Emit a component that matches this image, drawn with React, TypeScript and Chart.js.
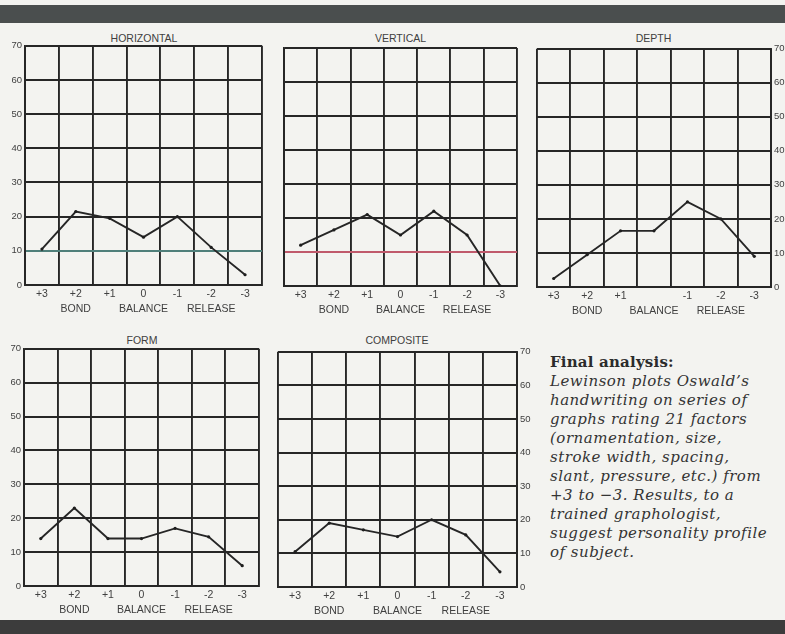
import { useEffect, useRef } from "react";
import { Chart, registerables } from "chart.js";

Chart.register(...registerables);

// ---- data ----
const categories = ["+3", "+2", "+1", "0", "-1", "-2", "-3"];
const depthCategories = ["+3", "+2", "+1", "", "-1", "-2", "-3"];
const zoneLabels = ["", "BOND", "", "BALANCE", "", "RELEASE", ""];
const yTicks = [0, 10, 20, 30, 40, 50, 60, 70];

const horizontalValues = [10.5, 21.5, 19.5, 14, 20, 11, 3];
const verticalValues = [12, 16.5, 21, 15, 22, 15, 0];
const depthValues = [2.5, 9.5, 16.5, 16.5, 25, 20, 9];
const formValues = [14, 23, 14, 14, 17, 14.5, 6];
const compositeValues = [10.5, 19, 17, 15, 20, 15.5, 4.5];

const captionTitle = "Final analysis:";
const captionLines = [
  "Lewinson plots Oswald\u2019s",
  "handwriting on series of",
  "graphs rating 21 factors",
  "(ornamentation, size,",
  "stroke width, spacing,",
  "slant, pressure, etc.) from",
  "+3 to \u22123. Results, to a",
  "trained graphologist,",
  "suggest personality profile",
  "of subject.",
];

// ---- styling / layout ----
const INK = "#262626";
const TEXT = "#404040";
const SANS = '"Liberation Sans", Arial, sans-serif';
const Y_AXIS_W = 22;
const X_AXIS_H = 34;
const PAD = { top: 8, left: 3, right: 3 };

type YPos = "left" | "right" | "none";
type Rect = { l: number; t: number; r: number; b: number };

function buildLabels(cats: string[]) {
  return cats.map((c, i) => (zoneLabels[i] ? [c, zoneLabels[i]] : c));
}

function Panel(props: {
  title: string;
  titleY: number;
  values: number[];
  cats: string[];
  plot: Rect;
  yPos: YPos;
  accent?: string;
}) {
  const ref = useRef<HTMLCanvasElement | null>(null);
  const { plot, yPos } = props;
  const left = plot.l - (yPos === "left" ? Y_AXIS_W : 0) - PAD.left;
  const right = plot.r + (yPos === "right" ? Y_AXIS_W : 0) + PAD.right;
  const top = plot.t - PAD.top;
  const bottom = plot.b + X_AXIS_H;
  const width = right - left;
  const height = bottom - top;

  useEffect(() => {
    if (!ref.current) return;
    const chart = new Chart(ref.current, {
      type: "line",
      data: {
        labels: buildLabels(props.cats),
        datasets: [
          {
            data: props.values,
            borderColor: INK,
            borderWidth: 1.9,
            pointRadius: 1.6,
            pointBorderWidth: 0,
            pointBackgroundColor: "#1e1e1e",
            tension: 0,
            fill: false,
          },
        ],
      },
      options: {
        animation: false,
        responsive: false,
        events: [],
        layout: { padding: { top: PAD.top, left: PAD.left, right: PAD.right, bottom: 0 } },
        plugins: {
          legend: { display: false },
          tooltip: { enabled: false },
          title: { display: false },
        },
        scales: {
          x: {
            type: "category",
            offset: true,
            grid: {
              offset: true,
              color: INK,
              lineWidth: 1.9,
              drawTicks: false,
            },
            border: { color: INK, width: 1.9 },
            ticks: {
              padding: 1,
              autoSkip: false,
              maxRotation: 0,
              color: TEXT,
              font: { family: SANS, size: 10.5, lineHeight: 1.48 },
            },
            afterFit: (s: any) => {
              s.height = X_AXIS_H;
            },
          },
          y: {
            position: yPos === "right" ? "right" : "left",
            min: 0,
            max: 70,
            afterBuildTicks: (s: any) => {
              s.ticks = yTicks.map((v) => ({ value: v }));
            },
            grid: {
              color: (ctx: any) =>
                props.accent && ctx.tick && ctx.tick.value === 10 ? props.accent : INK,
              lineWidth: 1.9,
              drawTicks: false,
            },
            border: { color: INK, width: 1.9 },
            ticks: {
              display: yPos !== "none",
              padding: 3,
              color: TEXT,
              font: { family: SANS, size: 9.5 },
            },
            afterFit: (s: any) => {
              s.width = yPos === "none" ? 0 : Y_AXIS_W;
            },
          },
        },
      } as any,
    });
    return () => chart.destroy();
  }, []);

  return (
    <>
      <div
        style={{
          position: "absolute",
          left: plot.l,
          width: plot.r - plot.l,
          top: props.titleY - 6,
          height: 12,
          lineHeight: "12px",
          textAlign: "center",
          fontFamily: SANS,
          fontSize: 10.5,
          color: TEXT,
          whiteSpace: "nowrap",
        }}
      >
        {props.title}
      </div>
      <canvas
        ref={ref}
        width={width}
        height={height}
        style={{ position: "absolute", left, top, width, height }}
      />
    </>
  );
}

export default function App() {
  return (
    <div
      style={{
        position: "fixed",
        left: 0,
        top: 0,
        width: 785,
        height: 634,
        overflow: "hidden",
        background: "#f3f3f0",
      }}
    >
      <div style={{ position: "absolute", left: 0, top: 5, width: 785, height: 18, background: "#4a4e4e" }} />
      <div style={{ position: "absolute", left: 0, top: 620, width: 785, height: 14, background: "#3c3c3c" }} />

      <Panel title="HORIZONTAL" titleY={37.5} values={horizontalValues} cats={categories}
        plot={{ l: 25, t: 45, r: 263, b: 285 }} yPos="left" accent="#4f7f7a" />
      <Panel title="VERTICAL" titleY={38} values={verticalValues} cats={categories}
        plot={{ l: 283, t: 48, r: 518, b: 286 }} yPos="none" accent="#c05a6c" />
      <Panel title="DEPTH" titleY={38} values={depthValues} cats={depthCategories}
        plot={{ l: 536, t: 48, r: 771, b: 287 }} yPos="right" />
      <Panel title="FORM" titleY={340} values={formValues} cats={categories}
        plot={{ l: 24, t: 348, r: 260, b: 586 }} yPos="left" />
      <Panel title="COMPOSITE" titleY={340} values={compositeValues} cats={categories}
        plot={{ l: 277, t: 351, r: 517, b: 587 }} yPos="right" />

      <div
        style={{
          position: "absolute",
          left: 550,
          top: 352,
          fontFamily: '"DejaVu Serif", serif',
          fontSize: 15,
          letterSpacing: "0.5px",
          color: "#343434",
          whiteSpace: "nowrap",
        }}
      >
        <div style={{ fontWeight: "bold", lineHeight: "20px", color: "#2b2b2b", letterSpacing: "0.2px" }}>
          {captionTitle}
        </div>
        {captionLines.map((line, i) => (
          <div key={i} style={{ fontStyle: "italic", lineHeight: "19px" }}>
            {line}
          </div>
        ))}
      </div>
    </div>
  );
}
